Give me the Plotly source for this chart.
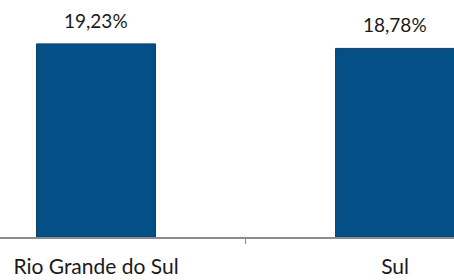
import plotly.graph_objects as go

categories = ["Rio Grande do Sul", "Sul"]
values = [19.23, 18.78]
value_labels = ["19,23%", "18,78%"]

FONT = "Lato, 'Open Sans', sans-serif"
BAR_COLOR = "#054F87"

fig = go.Figure()
fig.add_trace(go.Bar(
    x=categories,
    y=values,
    width=0.398,
    marker=dict(color=BAR_COLOR, line=dict(color="#0A3E66", width=1)),
    hoverinfo="skip",
))

for c, v, t in zip(categories, values, value_labels):
    fig.add_annotation(
        x=c, y=v, text=t, showarrow=False,
        yanchor="bottom", yshift=10,
        font=dict(family=FONT, size=19, color="#1a1a1a"),
    )

fig.update_layout(
    width=454, height=280,
    margin=dict(l=0, r=0, t=0, b=43),
    paper_bgcolor="white", plot_bgcolor="white",
    showlegend=False,
    xaxis=dict(
        type="category",
        range=[-0.321, 1.197],
        showline=True, linecolor="#8c8c8c", linewidth=1.5,
        ticks="outside", tickson="boundaries", ticklen=5,
        tickcolor="#8c8c8c", tickwidth=1,
        ticklabelstandoff=10,
        tickfont=dict(family=FONT, size=21, color="#1a1a1a"),
        showgrid=False,
    ),
    yaxis=dict(
        range=[0, 23.6],
        visible=False,
        showgrid=False,
    ),
)

fig.write_html(
    "out.html",
    config={"displayModeBar": False},
    post_script="document.body.style.margin='0';document.body.style.overflow='hidden';",
)
